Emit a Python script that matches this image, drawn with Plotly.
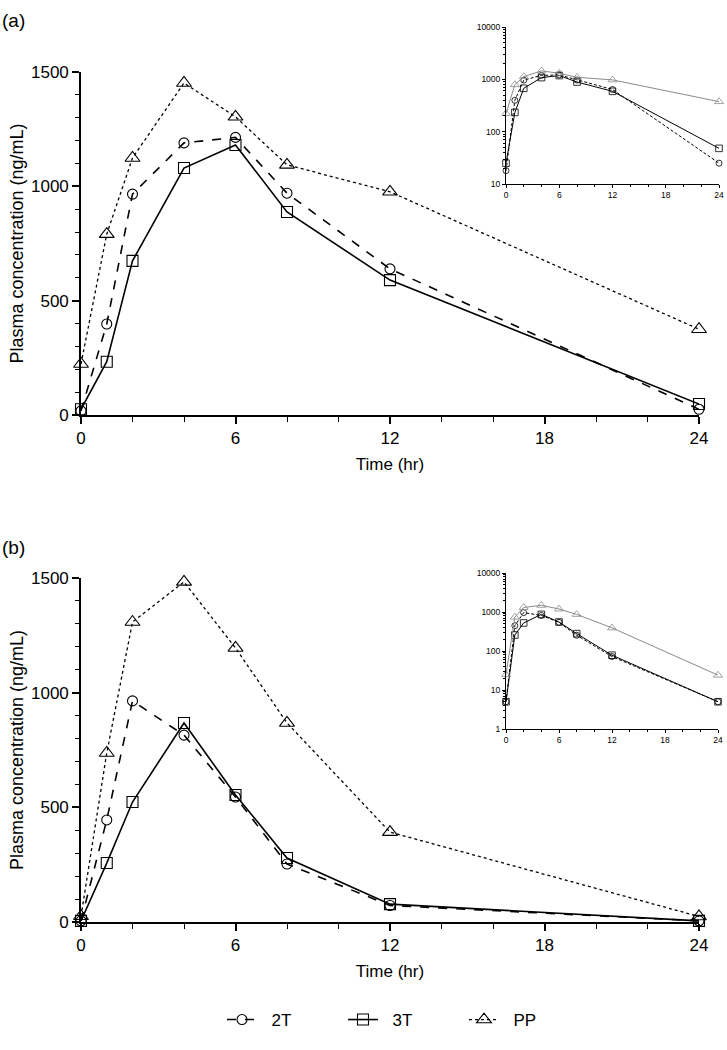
import plotly.graph_objects as go

# ---------------- data ----------------
time_hr = [0, 1, 2, 4, 6, 8, 12, 24]
series_names = ["2T", "3T", "PP"]

# panel (a)
a_2T = [18, 398, 966, 1190, 1214, 970, 639, 25]
a_3T = [25, 233, 674, 1080, 1181, 888, 590, 48]
a_PP = [223, 791, 1124, 1452, 1304, 1094, 976, 375]

# panel (b)
b_2T = [5, 445, 964, 815, 545, 253, 72, 5]
b_3T = [5, 257, 523, 868, 554, 279, 78, 5]
b_PP = [25, 737, 1308, 1483, 1195, 868, 392, 24]

x_ticks = [0, 6, 12, 18, 24]
y_ticks_lin = [0, 500, 1000, 1500]
y_ticks_log_a = [10, 100, 1000, 10000]
y_ticks_log_b = [1, 10, 100, 1000, 10000]

# ---------------- styles ----------------
W, H = 727, 1050
FONT = "Liberation Sans, Arial, sans-serif"
styles = {
    "2T": dict(dash="dash", symbol="circle-open", size=10),
    "3T": dict(dash="solid", symbol="square-open", size=11),
    "PP": dict(dash="dot", symbol="triangle-up-open", size=13),
}
inset_color = {"2T": "black", "3T": "black", "PP": "#8a8a8a"}


def px_x(px):
    return px / W


def px_y(py):
    return 1 - py / H


fig = go.Figure()

panels = [
    ("a", [a_2T, a_3T, a_PP], "x", "y", "x3", "y3"),
    ("b", [b_2T, b_3T, b_PP], "x2", "y2", "x4", "y4"),
]

for pi, (lab, vals, xa, ya, xi, yi) in enumerate(panels):
    for name, v in zip(series_names, vals):
        st = styles[name]
        fig.add_trace(go.Scatter(
            x=time_hr, y=v, name="\u00a0\u00a0" + name, mode="lines+markers",
            xaxis=xa, yaxis=ya, showlegend=(pi == 0), legendgroup=name,
            line=dict(color="black", width=1.6 if name != "PP" else 1.3, dash=st["dash"]),
            marker=dict(symbol=st["symbol"], size=st["size"], color="black",
                        line=dict(color="black", width=1.1)),
            cliponaxis=False,
        ))
    for name, v in zip(series_names, vals):
        st = styles[name]
        fig.add_trace(go.Scatter(
            x=time_hr, y=v, name=name, mode="lines+markers",
            xaxis=xi, yaxis=yi, showlegend=False, legendgroup=name,
            line=dict(color=inset_color[name], width=1.0,
                      dash="3px,2px" if name == "2T" else "solid"),
            marker=dict(symbol=st["symbol"], size=st["size"] * 0.6,
                        color=inset_color[name], line=dict(width=0.8)),
            cliponaxis=False,
        ))

main_axis = dict(
    showline=True, linecolor="black", linewidth=1.6, showgrid=False, zeroline=False,
    ticks="outside", ticklen=7, tickwidth=1.5, tickcolor="black", automargin=False,
    tickfont=dict(family=FONT, size=17, color="black"),
)

xdom = [px_x(81), px_x(699)]
for xa, ya, ytop, ybot in [("xaxis", "yaxis", 72, 415), ("xaxis2", "yaxis2", 578, 922)]:
    anchor_y = "y" if ya == "yaxis" else "y2"
    anchor_x = "x" if xa == "xaxis" else "x2"
    fig.layout[xa] = dict(
        main_axis, domain=xdom, anchor=anchor_y, range=[0, 24],
        tickvals=x_ticks,
        minor=dict(dtick=2, tick0=0, ticks="outside", ticklen=5, tickwidth=1.3, tickcolor="black"),
        title=dict(text="Time (hr)", font=dict(family=FONT, size=17, color="black"), standoff=11),
    )
    fig.layout[ya] = dict(
        main_axis, domain=[px_y(ybot), px_y(ytop)], anchor=anchor_x, range=[0, 1500],
        tickvals=y_ticks_lin,
        minor=dict(dtick=100, tick0=0, ticks="outside", ticklen=4, tickwidth=1.3, tickcolor="black"),
        title=dict(text="Plasma concentration (ng/mL)", font=dict(family=FONT, size=18, color="black"), standoff=3),
    )

inset_axis = dict(
    showline=True, linecolor="black", linewidth=1.0, showgrid=False, zeroline=False,
    ticks="outside", ticklen=3, tickwidth=1, tickcolor="black", automargin=False,
    tickfont=dict(family=FONT, size=8.5, color="black"),
)


def log_minor(lo, hi):
    out = []
    d = lo
    while d < hi:
        for m in range(2, 10):
            out.append(m * d)
        d *= 10
    return out


for xa, ya, anchor_x, anchor_y, x0, x1, ytop, ybot, yt in [
    ("xaxis3", "yaxis3", "x3", "y3", 506, 719, 27, 184, y_ticks_log_a),
    ("xaxis4", "yaxis4", "x4", "y4", 506, 718, 573, 729, y_ticks_log_b),
]:
    fig.layout[xa] = dict(
        inset_axis, domain=[px_x(x0), px_x(x1)], anchor=anchor_y, range=[0, 24],
        tickvals=x_ticks,
        minor=dict(dtick=2, tick0=0, ticks="outside", ticklen=2, tickwidth=0.8, tickcolor="black"),
    )
    fig.layout[ya] = dict(
        inset_axis, type="log", domain=[px_y(ybot), px_y(ytop)], anchor=anchor_x,
        range=[len(str(yt[0])) - 1, 4],
        tickvals=yt, ticktext=[str(t) for t in yt],
        minor=dict(tickvals=log_minor(yt[0], yt[-1]), ticks="outside", ticklen=2,
                   tickwidth=0.8, tickcolor="black"),
    )

fig.add_annotation(text="(a)", x=0, y=px_y(20), xref="paper", yref="paper",
                   xanchor="left", yanchor="middle", showarrow=False,
                   font=dict(family=FONT, size=19, color="black"))
fig.add_annotation(text="(b)", x=0, y=px_y(547), xref="paper", yref="paper",
                   xanchor="left", yanchor="middle", showarrow=False,
                   font=dict(family=FONT, size=19, color="black"))

fig.update_layout(
    width=W, height=H, margin=dict(l=0, r=0, t=0, b=0),
    paper_bgcolor="white", plot_bgcolor="white",
    showlegend=True,
    legend=dict(orientation="h", x=0.555, xanchor="center", y=px_y(1020), yanchor="middle",
                font=dict(family=FONT, size=17, color="black"),
                entrywidth=76, entrywidthmode="pixels", itemwidth=30,
                bgcolor="rgba(0,0,0,0)"),
)

fig.write_html("out.html", config={"displayModeBar": False},
               post_script="document.body.style.margin='0';document.body.style.overflow='hidden';")
